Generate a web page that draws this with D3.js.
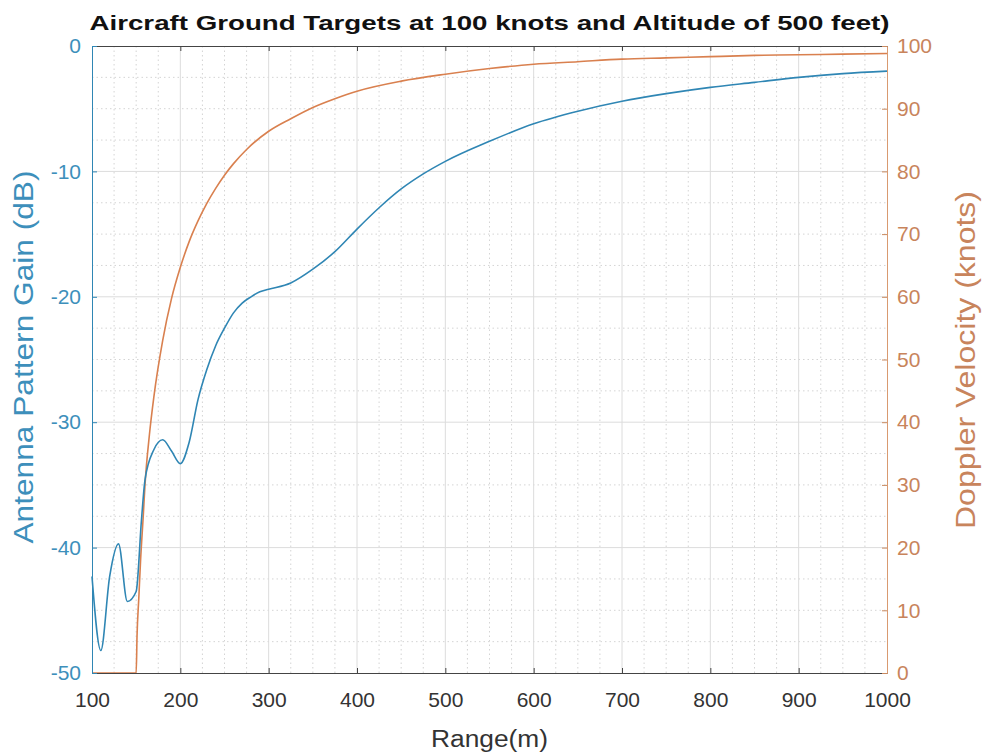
<!DOCTYPE html>
<html>
<head>
<meta charset="utf-8">
<script src="https://cdn.jsdelivr.net/npm/d3@7"></script>
<style>
  body { margin: 0; background: #fff; }
  text { font-family: "Liberation Sans", Arial, sans-serif; }
</style>
</head>
<body>
<div id="chart"></div>
<script>
// range (m) samples
const gainRange = [100, 110, 120, 130, 140, 150, 156, 160, 170, 180, 190, 200, 210, 220, 230, 240, 250, 260, 270, 280, 290, 300, 325, 350, 375, 400, 425, 450, 475, 500, 550, 600, 650, 700, 750, 800, 850, 900, 950, 1000];
const gainDb = [-42.3, -48.2, -42.3, -39.7, -44.3, -43.5, -37.8, -34.6, -32.2, -31.4, -32.3, -33.3, -31.6, -28.2, -25.8, -23.9, -22.5, -21.3, -20.5, -20.0, -19.6, -19.4, -18.9, -17.8, -16.4, -14.6, -12.9, -11.4, -10.2, -9.2, -7.6, -6.2, -5.2, -4.4, -3.8, -3.3, -2.9, -2.5, -2.2, -2.0];

const dopRange = [100, 150, 151, 153, 155, 158, 160, 165, 170, 180, 190, 200, 210, 220, 230, 240, 250, 260, 275, 300, 325, 350, 375, 400, 450, 500, 550, 600, 650, 700, 750, 800, 850, 900, 950, 1000];
const dopKnots = [0, 0, 6, 12, 18, 25, 30, 38, 44, 53, 59.7, 64.7, 68.8, 72.1, 74.9, 77.3, 79.4, 81.2, 83.5, 86.4, 88.4, 90.2, 91.6, 92.8, 94.4, 95.5, 96.4, 97.1, 97.5, 97.9, 98.1, 98.3, 98.5, 98.6, 98.7, 98.8];

const xTicks = [100, 200, 300, 400, 500, 600, 700, 800, 900, 1000];
const leftTicks = [0, -10, -20, -30, -40, -50];
const rightTicks = [0, 10, 20, 30, 40, 50, 60, 70, 80, 90, 100];

const blue = "#2f86b4";
const orange = "#d9804f";

const W = 984, H = 755;
const margin = { top: 46, right: 97, bottom: 82, left: 92 };
const width = W - margin.left - margin.right;
const height = H - margin.top - margin.bottom;

const svg = d3.select("#chart").append("svg")
  .attr("width", W).attr("height", H);
const g = svg.append("g").attr("transform", `translate(${margin.left},${margin.top})`);

const x = d3.scaleLinear().domain([100, 1000]).range([0, width]);
const yL = d3.scaleLinear().domain([-50, 0]).range([height, 0]);
const yR = d3.scaleLinear().domain([0, 100]).range([height, 0]);

// minor grid (dotted)
const minorX = d3.range(100, 1000, 25).filter(v => v % 100 !== 0);
const minorY = d3.range(-50, 0, 2.5).filter(v => v % 10 !== 0);
g.selectAll(".mgx").data(minorX).join("line")
  .attr("x1", d => x(d)).attr("x2", d => x(d)).attr("y1", 0).attr("y2", height)
  .attr("stroke", "#d4d4d4").attr("stroke-dasharray", "1.5,3");
g.selectAll(".mgy").data(minorY).join("line")
  .attr("y1", d => yL(d)).attr("y2", d => yL(d)).attr("x1", 0).attr("x2", width)
  .attr("stroke", "#d4d4d4").attr("stroke-dasharray", "1.5,3");

// major grid
g.selectAll(".gx").data(xTicks.slice(1, -1)).join("line")
  .attr("x1", d => x(d)).attr("x2", d => x(d)).attr("y1", 0).attr("y2", height)
  .attr("stroke", "#dcdcdc");
g.selectAll(".gy").data(leftTicks.slice(1, -1)).join("line")
  .attr("y1", d => yL(d)).attr("y2", d => yL(d)).attr("x1", 0).attr("x2", width)
  .attr("stroke", "#dcdcdc");

// curves
const lineG = d3.line().x((d, i) => x(gainRange[i])).y(d => yL(d)).curve(d3.curveMonotoneX);
const lineD = d3.line().x((d, i) => x(dopRange[i])).y(d => yR(d)).curve(d3.curveMonotoneX);

g.append("path").attr("d", lineD(dopKnots))
  .attr("fill", "none").attr("stroke", orange).attr("stroke-width", 1.6);
g.append("path").attr("d", lineG(gainDb))
  .attr("fill", "none").attr("stroke", blue).attr("stroke-width", 1.6);

// axes
const fmt = d => String(d);
const tickFont = sel => sel.selectAll("text")
  .style("font-size", "21px").style("font-family", "'Liberation Sans', Arial, sans-serif");

const xAxis = g.append("g").attr("transform", `translate(0,${height})`)
  .call(d3.axisTop(x).tickValues(xTicks).tickSize(5).tickFormat(fmt));
xAxis.select(".domain").attr("stroke", "#444");
xAxis.selectAll(".tick line").attr("stroke", "#444");
xAxis.selectAll("text").attr("y", 19).attr("dy", "0.71em").attr("fill", "#333");
tickFont(xAxis);

const xTop = g.append("g")
  .call(d3.axisBottom(x).tickValues(xTicks).tickSize(5).tickFormat(""));
xTop.select(".domain").attr("stroke", "#444");
xTop.selectAll(".tick line").attr("stroke", "#444");

const yAxisL = g.append("g")
  .call(d3.axisRight(yL).tickValues(leftTicks).tickSize(5).tickFormat(fmt));
yAxisL.select(".domain").attr("stroke", blue);
yAxisL.selectAll(".tick line").attr("stroke", blue);
yAxisL.selectAll("text").attr("x", -11).attr("text-anchor", "end").attr("fill", "#3d8fbb");
tickFont(yAxisL);

const yAxisR = g.append("g").attr("transform", `translate(${width},0)`)
  .call(d3.axisLeft(yR).tickValues(rightTicks).tickSize(5).tickFormat(fmt));
yAxisR.select(".domain").attr("stroke", "#d99a70");
yAxisR.selectAll(".tick line").attr("stroke", "#c98a60");
yAxisR.selectAll("text").attr("x", 10).attr("text-anchor", "start").attr("fill", "#c8845c");
tickFont(yAxisR);

// labels
svg.append("text")
  .attr("x", margin.left + width / 2).attr("y", 30)
  .attr("text-anchor", "middle")
  .attr("textLength", 800).attr("lengthAdjust", "spacingAndGlyphs")
  .style("font-size", "21px").style("font-weight", "bold").attr("fill", "#111")
  .text("Aircraft Ground Targets at 100 knots and Altitude of 500 feet)");

svg.append("text")
  .attr("x", margin.left + width / 2).attr("y", 747)
  .attr("text-anchor", "middle")
  .attr("textLength", 117).attr("lengthAdjust", "spacingAndGlyphs")
  .style("font-size", "23px").attr("fill", "#333")
  .text("Range(m)");

svg.append("text")
  .attr("transform", `translate(33,357) rotate(-90)`)
  .attr("text-anchor", "middle")
  .attr("textLength", 373).attr("lengthAdjust", "spacingAndGlyphs")
  .style("font-size", "27px").attr("fill", "#3d8fbb")
  .text("Antenna Pattern Gain (dB)");

svg.append("text")
  .attr("transform", `translate(975,360) rotate(-90)`)
  .attr("text-anchor", "middle")
  .attr("textLength", 338).attr("lengthAdjust", "spacingAndGlyphs")
  .style("font-size", "27px").attr("fill", "#c8845c")
  .text("Doppler Velocity (knots)");
</script>
</body>
</html>
